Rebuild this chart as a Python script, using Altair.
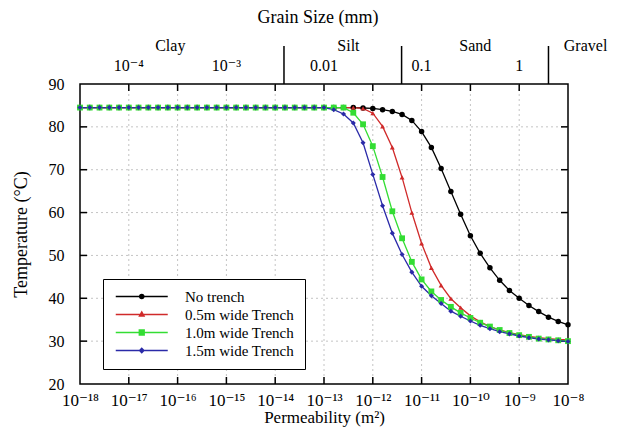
import altair as alt
import pandas as pd

# ---------------- data ----------------
log_k = [-18.0, -17.8, -17.6, -17.4, -17.2, -17.0, -16.8, -16.6, -16.4, -16.2,
         -16.0, -15.8, -15.6, -15.4, -15.2, -15.0, -14.8, -14.6, -14.4, -14.2,
         -14.0, -13.8, -13.6, -13.4, -13.2, -13.0, -12.8, -12.6, -12.4, -12.2,
         -12.0, -11.8, -11.6, -11.4, -11.2, -11.0, -10.8, -10.6, -10.4, -10.2,
         -10.0, -9.8, -9.6, -9.4, -9.2, -9.0, -8.8, -8.6, -8.4, -8.2, -8.0]

no_trench = [84.5] * 28 + [84.5, 84.4, 84.3, 84.0, 83.6, 82.9, 81.5, 78.9, 75.2, 70.3,
                           64.9, 59.6, 54.6, 50.5, 47.1, 44.2, 41.8, 40.0, 38.3, 36.9,
                           35.6, 34.6, 33.8]
trench_05 = [84.5] * 28 + [84.5, 84.3, 83.2, 80.1, 75.2, 68.2, 60.0, 52.8, 47.1, 43.0,
                           39.9, 37.8, 35.9, 34.5, 33.4, 32.6, 32.0, 31.5, 31.1, 30.8,
                           30.6, 30.4, 30.3]
trench_10 = [84.5] * 27 + [84.5, 83.3, 80.6, 75.5, 68.3, 60.3, 54.0, 48.5, 44.4, 41.6,
                           39.6, 38.0, 36.6, 35.4, 34.3, 33.4, 32.6, 31.9, 31.4, 31.0,
                           30.6, 30.4, 30.2, 30.0]
trench_15 = [84.5] * 26 + [84.0, 83.0, 80.9, 76.3, 68.9, 61.6, 55.2, 50.2, 46.1, 42.8,
                           40.6, 38.8, 37.0, 35.8, 34.7, 33.7, 32.9, 32.2, 31.7, 31.2,
                           30.8, 30.5, 30.3, 30.1, 29.9]

series_names = ["No trench", "0.5m wide Trench", "1.0m wide Trench", "1.5m wide Trench"]
series_values = [no_trench, trench_05, trench_10, trench_15]
series_colors = ["#000000", "#d02a2a", "#33dd33", "#2a2aa8"]
series_shapes = ["circle", "triangle-up", "square", "diamond"]
series_sizes = [30, 24, 34, 26]

x_ticks = [-18, -17, -16, -15, -14, -13, -12, -11, -10, -9, -8]
x_inner = [-17, -16, -15, -14, -13, -12, -11, -10, -9]
y_ticks = [20, 30, 40, 50, 60, 70, 80, 90]
y_inner = [30, 40, 50, 60, 70, 80]

grain_pos = [-17, -15, -13, -11, -9]
grain_labels = ["10⁻⁴", "10⁻³", "0.01", "0.1", "1"]
class_bounds = [-13.82, -11.41, -8.40]
class_pos = [-16.15, -12.5, -9.9, -7.64]
class_names = ["Clay", "Silt", "Sand", "Gravel"]

# ---------------- frames ----------------
rows = []
for name, vals in zip(series_names, series_values):
    for k, t in zip(log_k, vals):
        rows.append({"series": name, "log_k": k, "temp": t})
df = pd.DataFrame(rows)

W, H = 488, 300
FONT = "Liberation Serif, DejaVu Serif, serif"

sup = str.maketrans("-0123456789", "⁻⁰¹²³⁴⁵⁶⁷⁸⁹")
expr = ""
for e in x_ticks:
    expr += f"datum.value == {e} ? '10{str(e).translate(sup)}' : "
expr += "''"

xscale = alt.Scale(domain=[-18, -8], nice=False, zero=False)
yscale = alt.Scale(domain=[20, 90], nice=False, zero=False)

xenc = alt.X("log_k:Q", scale=xscale,
             axis=alt.Axis(values=x_ticks, labelExpr=expr, ticks=False, tickSize=0,
                           domain=False, grid=False, labelFont=FONT, labelFontSize=17,
                           labelPadding=8, labelColor="black", labelOverlap=False,
                           labelFlush=False,
                           title="Permeability (m²)", titleFont=FONT, titleFontSize=17,
                           titleFontWeight="normal", titlePadding=1, titleColor="black"))
yenc = alt.Y("temp:Q", scale=yscale,
             axis=alt.Axis(values=y_ticks, ticks=False, tickSize=0, domain=False, grid=False,
                           labelFont=FONT, labelFontSize=16, labelPadding=16,
                           labelColor="black", labelOverlap=False,
                           title="Temperature (°C)", titleFont=FONT, titleFontSize=18,
                           titleFontWeight="normal", titlePadding=18, titleColor="black"))

color_scale = alt.Scale(domain=series_names, range=series_colors)

# grid
gx = alt.Chart(pd.DataFrame({"log_k": x_inner})).mark_rule(
    color="#c4c4c4", strokeDash=[2, 3], strokeWidth=1).encode(x=alt.X("log_k:Q", scale=xscale))
gy = alt.Chart(pd.DataFrame({"temp": y_inner})).mark_rule(
    color="#c4c4c4", strokeDash=[2, 3], strokeWidth=1).encode(y=alt.Y("temp:Q", scale=yscale))

# inward ticks
tx = pd.DataFrame({"log_k": x_inner})
ty = pd.DataFrame({"temp": y_inner})
tick_b = alt.Chart(tx).mark_rule(color="black", strokeWidth=1.5).encode(
    x=alt.X("log_k:Q", scale=xscale), y=alt.value(H), y2=alt.value(H - 7))
tick_t = alt.Chart(tx).mark_rule(color="black", strokeWidth=1.5).encode(
    x=alt.X("log_k:Q", scale=xscale), y=alt.value(0), y2=alt.value(7))
tick_l = alt.Chart(ty).mark_rule(color="black", strokeWidth=1.5).encode(
    y=alt.Y("temp:Q", scale=yscale), x=alt.value(0), x2=alt.value(7))
tick_r = alt.Chart(ty).mark_rule(color="black", strokeWidth=1.5).encode(
    y=alt.Y("temp:Q", scale=yscale), x=alt.value(W), x2=alt.value(W - 7))

# top grain-size axis
bounds = alt.Chart(pd.DataFrame({"log_k": class_bounds})).mark_rule(
    color="black", strokeWidth=1.5).encode(
    x=alt.X("log_k:Q", scale=xscale), y=alt.value(0), y2=alt.value(-38))
glabels = alt.Chart(pd.DataFrame({"log_k": grain_pos, "lab": grain_labels})).mark_text(
    font=FONT, fontSize=16, baseline="middle", color="black").encode(
    x=alt.X("log_k:Q", scale=xscale), y=alt.value(-18), text="lab:N")
clabels = alt.Chart(pd.DataFrame({"log_k": class_pos, "lab": class_names})).mark_text(
    font=FONT, fontSize=16, baseline="middle", color="black").encode(
    x=alt.X("log_k:Q", scale=xscale), y=alt.value(-38), text="lab:N")
gtitle = alt.Chart(pd.DataFrame({"lab": ["Grain Size (mm)"]})).mark_text(
    font=FONT, fontSize=18, baseline="middle", color="black").encode(
    x=alt.value(W / 2 - 6), y=alt.value(-66), text="lab:N")

# curves
lines = alt.Chart(df).mark_line(strokeWidth=1.3).encode(
    x=xenc, y=yenc,
    color=alt.Color("series:N", scale=color_scale, legend=None),
    order=alt.Order("log_k:Q"))

point_layers = []
for name, shp, sz in zip(series_names, series_shapes, series_sizes):
    point_layers.append(
        alt.Chart(df).transform_filter(alt.datum.series == name).mark_point(
            filled=True, opacity=1, shape=shp, size=sz).encode(
            x=alt.X("log_k:Q", scale=xscale), y=alt.Y("temp:Q", scale=yscale),
            color=alt.Color("series:N", scale=color_scale, legend=None)))

# ---- legend symbols: a line segment plus a marker made of nested rings (stroke only)
CX = 4.25      # marker centre, in symbol units (5 px each at symbolSize 100)
LINE = "M-0.95,0H9.45"


def ring_circle(r):
    return f"M{CX - r:.3f},0A{r},{r} 0 1,0 {CX + r:.3f},0A{r},{r} 0 1,0 {CX - r:.3f},0Z"


def ring_square(h):
    return f"M{CX - h:.3f},{-h}H{CX + h:.3f}V{h}H{CX - h:.3f}Z"


def ring_diamond(h):
    return f"M{CX:.3f},{-h}L{CX + h:.3f},0L{CX:.3f},{h}L{CX - h:.3f},0Z"


def ring_triangle(s):
    return (f"M{CX:.3f},{-0.62 * s:.3f}L{CX + 0.56 * s:.3f},{0.36 * s:.3f}"
            f"L{CX - 0.56 * s:.3f},{0.36 * s:.3f}Z")


legend_paths = [
    LINE + "".join(ring_circle(r) for r in (0.42, 0.24, 0.07)),
    LINE + "".join(ring_triangle(s) for s in (0.85, 0.45, 0.1)),
    LINE + "".join(ring_square(h) for h in (0.5, 0.3, 0.1)),
    LINE + "".join(ring_diamond(h) for h in (0.45, 0.25, 0.07)),
]
leg = alt.Legend(title=None, orient="none", legendX=23, legendY=195,
                 fillColor="white", strokeColor="black", padding=10,
                 labelFont=FONT, labelFontSize=15, labelColor="black",
                 symbolSize=100, symbolStrokeWidth=1.3, rowPadding=2,
                 labelOffset=57)
legend_layer = alt.Chart(pd.DataFrame({"series": pd.Series([], dtype=str)})).mark_point(
    filled=False, strokeWidth=1.3, opacity=1).encode(
    color=alt.Color("series:N", scale=color_scale, legend=leg),
    shape=alt.Shape("series:N", scale=alt.Scale(domain=series_names, range=legend_paths), legend=leg))

chart = alt.layer(
    gx, gy, tick_b, tick_t, tick_l, tick_r, bounds, glabels, clabels, gtitle,
    lines, *point_layers, legend_layer
).resolve_scale(color="independent", shape="independent").properties(
    width=W, height=H,
    autosize=alt.AutoSizeParams(type="none"),
    padding={"left": 72, "top": 76, "right": 41, "bottom": 44},
    background="white",
).configure_view(stroke="black", strokeWidth=1.5)

chart.save("out.html", embed_options={"renderer": "svg", "actions": False})
